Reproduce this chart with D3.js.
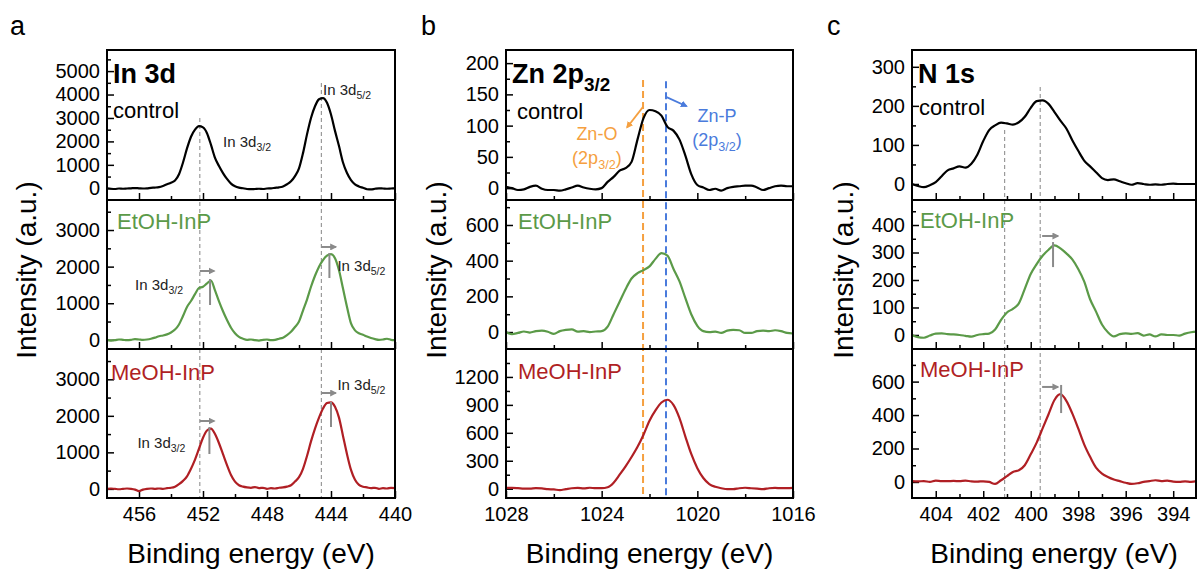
<!DOCTYPE html>
<meta charset="utf-8">
<script src="https://d3js.org/d3.v7.min.js"></script>
<style>
  body { margin: 0; background: #fff; }
  svg text { font-family: "Liberation Sans", Arial, Helvetica, sans-serif; }
</style>
<div id="chart"></div>
<script>
// ---------- data ----------
// panel a : In 3d
const energyA = [458, 457.75, 457.5, 457.25, 457, 456.75, 456.5, 456.25, 456, 455.75,
  455.5, 455.25, 455, 454.75, 454.5, 454.25, 454, 453.75, 453.5, 453.25,
  453, 452.75, 452.5, 452.25, 452, 451.75, 451.5, 451.25, 451, 450.75,
  450.5, 450.25, 450, 449.75, 449.5, 449.25, 449, 448.75, 448.5, 448.25,
  448, 447.75, 447.5, 447.25, 447, 446.75, 446.5, 446.25, 446, 445.75,
  445.5, 445.25, 445, 444.75, 444.5, 444.25, 444, 443.75, 443.5, 443.25,
  443, 442.75, 442.5, 442.25, 442, 441.75, 441.5, 441.25, 441, 440.75,
  440.5, 440.25, 440];
const controlA = [0, -20, -30, -10, -20, -10, 0, 10, 0, -10,
  0, 20, 30, 50, 100, 170, 240, 330, 600, 1100,
  1700, 2200, 2500, 2650, 2600, 2350, 1850, 1300, 950, 650,
  400, 200, 90, 30, 0, -30, -40, -30, -20, -30,
  -10, 0, 20, 40, 80, 170, 300, 520, 850, 1500,
  2300, 3000, 3500, 3800, 3850, 3650, 3150, 2450, 1800, 1100,
  650, 350, 170, 80, 20, -40, -50, -20, 0, -10,
  -20, -10, 0];
const etohA = [0, -20, -10, 10, 0, -10, 0, 20, 10, 0,
  10, 30, 60, 100, 120, 150, 200, 280, 420, 650,
  900, 1060, 1250, 1420, 1450, 1540, 1620, 1350, 1050, 780,
  540, 330, 180, 80, 30, 0, 10, -10, -20, 0,
  10, -10, 0, 30, 60, 130, 220, 350, 500, 800,
  1100, 1450, 1750, 2000, 2180, 2300, 2340, 2230, 1900, 1400,
  900, 450, 260, 180, 140, 90, 50, 20, 0, 10,
  30, 0, -10];
const meohA = [0, 10, 0, -10, 0, 10, 0, -20, -60, -20,
  0, 10, 0, 10, 0, 20, 30, 60, 130, 220,
  340, 550, 800, 1100, 1400, 1600, 1650, 1500, 1250, 950,
  650, 380, 200, 100, 60, 40, 30, 50, 20, 30,
  0, 20, 10, 30, 40, 60, 100, 200, 320, 550,
  900, 1300, 1650, 1950, 2200, 2350, 2370, 2250, 1950, 1450,
  950, 520, 250, 110, 60, 40, 20, 30, 0, 20,
  10, 30, 20];

// panel b : Zn 2p3/2
const energyB = [1028, 1027.75, 1027.5, 1027.25, 1027, 1026.75, 1026.5, 1026.25, 1026, 1025.75,
  1025.5, 1025.25, 1025, 1024.75, 1024.5, 1024.25, 1024, 1023.75, 1023.5, 1023.25,
  1023, 1022.75, 1022.5, 1022.25, 1022, 1021.75, 1021.5, 1021.25, 1021, 1020.75,
  1020.5, 1020.25, 1020, 1019.75, 1019.5, 1019.25, 1019, 1018.75, 1018.5, 1018.25,
  1018, 1017.75, 1017.5, 1017.25, 1017, 1016.75, 1016.5, 1016.25, 1016];
const controlB = [2, 0, -3, -2, 2, 4, -1, -3, -3, -4,
  -2, 1, 4, 1, -1, -2, 0, 10, 18, 28,
  32, 42, 78, 112, 125, 123, 116, 98, 92, 78,
  52, 22, 5, 1, -3, -1, -4, 0, 2, 3,
  4, 4, 1, -3, 0, 3, 4, 3, 3];
const etohB = [0, -12, -5, 3, -3, 5, 8, 2, -10, 5,
  12, 15, 2, 5, 0, 3, 5, 30, 100, 170,
  240, 300, 330, 347, 368, 410, 442, 428, 355, 285,
  190, 98, 35, 5, 0, 2, -5, 8, 12, 10,
  -5, -5, 5, 8, 5, 10, 5, -5, -8];
const meohB = [8, 8, 5, 0, 0, 5, 3, -5, -8, -15,
  -5, 5, 8, 3, 10, 5, 5, 15, 65, 150,
  240, 340, 450, 580, 730, 840, 925, 955, 900, 760,
  560, 370, 220, 115, 50, 20, 5, -5, -5, 5,
  10, 5, 0, -5, 5, 8, 5, 5, 8];

// panel c : N 1s
const energyC = [405, 404.75, 404.5, 404.25, 404, 403.75, 403.5, 403.25, 403, 402.75,
  402.5, 402.25, 402, 401.75, 401.5, 401.25, 401, 400.75, 400.5, 400.25,
  400, 399.75, 399.5, 399.25, 399, 398.75, 398.5, 398.25, 398, 397.75,
  397.5, 397.25, 397, 396.75, 396.5, 396.25, 396, 395.75, 395.5, 395.25,
  395, 394.75, 394.5, 394.25, 394, 393.75, 393.5, 393.25, 393];
const controlC = [0, -5, -8, -3, 5, 20, 35, 40, 45, 42,
  52, 75, 110, 138, 150, 157, 155, 152, 158, 172,
  195, 212, 214, 205, 184, 162, 142, 112, 85, 60,
  45, 30, 15, 10, 12, 7, 2, -2, 2, 0,
  -2, -1, -2, 0, 1, 0, 0, 0, 0];
const etohC = [0, -8, -10, -2, 5, 6, 3, 2, 0, -3,
  -6, 0, 3, 5, 20, 55, 82, 95, 115, 168,
  222, 258, 288, 310, 326, 315, 297, 275, 240, 195,
  130, 85, 38, 10, -5, 3, 6, 4, 7, -2,
  2, -5, 2, 0, 0, -2, 5, 10, 12];
const meohC = [5, 3, 5, 0, 8, 5, 5, 6, 5, 8,
  3, 2, 4, 0, -12, 10, 35, 60, 70, 100,
  165, 235, 320, 405, 490, 525, 485, 410, 320, 225,
  150, 85, 50, 30, 15, 5, -5, -12, -8, 0,
  5, 10, 5, 8, 2, 0, 3, 0, 5];

// tick values
const xTicksA = [456, 452, 448, 444, 440], xMinorA = [454, 450, 446, 442];
const xTicksB = [1028, 1024, 1020, 1016], xMinorB = [1026, 1022, 1018];
const xTicksC = [404, 402, 400, 398, 396, 394], xMinorC = [403, 401, 399, 397, 395, 393];
const yTicksA1 = [0, 1000, 2000, 3000, 4000, 5000], yMinorA1 = [500, 1500, 2500, 3500, 4500, 5500];
const yTicksA2 = [0, 1000, 2000, 3000], yMinorA2 = [500, 1500, 2500, 3500];
const yTicksB1 = [0, 50, 100, 150, 200], yMinorB1 = [25, 75, 125, 175];
const yTicksB2 = [0, 200, 400, 600], yMinorB2 = [100, 300, 500, 700];
const yTicksB3 = [0, 300, 600, 900, 1200], yMinorB3 = [150, 450, 750, 1050, 1350];
const yTicksC1 = [0, 100, 200, 300], yMinorC1 = [50, 150, 250];
const yTicksC2 = [0, 100, 200, 300, 400], yMinorC2 = [50, 150, 250, 350, 450];
const yTicksC3 = [0, 200, 400, 600], yMinorC3 = [100, 300, 500, 700];

// ---------- layout ----------
const W = 1197, H = 569;
const rowTop = [50, 200, 349], rowBot = [200, 349, 498];
const black = "#000", green = "#5b9a48", red = "#b01f24";
const grey = "#8a8a8a", orange = "#f5a040", blue = "#4a7bdc";
const fmt = d3.format("d");

const svg = d3.select("#chart").append("svg")
  .attr("width", W).attr("height", H);

// arrow heads
const defs = svg.append("defs");
[["arrGrey", grey], ["arrOrange", orange], ["arrBlue", blue]].forEach(([id, c]) => {
  defs.append("marker").attr("id", id)
    .attr("viewBox", "0 0 10 10").attr("refX", 8).attr("refY", 5)
    .attr("markerWidth", 7).attr("markerHeight", 7)
    .attr("markerUnits", "userSpaceOnUse").attr("orient", "auto")
    .append("path").attr("d", "M0,0L10,5L0,10Z").attr("fill", c);
});

// text with optional subscript pieces: parts = [[text, isSub], ...]
function richText(g, x, y, parts, size, color, weight, anchor) {
  const t = g.append("text").attr("x", x).attr("y", y)
    .attr("font-size", size).attr("fill", color)
    .attr("font-weight", weight || "normal")
    .attr("text-anchor", anchor || "start");
  let down = false;
  parts.forEach(([s, sub]) => {
    const ts = t.append("tspan").text(s);
    if (sub && !down) { ts.attr("dy", size * 0.28).attr("font-size", size * 0.7); down = true; }
    else if (sub) ts.attr("font-size", size * 0.7);
    else if (!sub && down) { ts.attr("dy", -size * 0.28); down = false; }
  });
  return t;
}

function drawPanel(p) {
  const g = svg.append("g");
  const x = d3.scaleLinear().domain(p.xDomain).range([p.left, p.right]);
  const ys = p.rows.map((r, i) => d3.scaleLinear().domain(r.yDomain).range([rowBot[i], rowTop[i]]));

  // vertical reference lines (behind the curves)
  p.guides.forEach(gd => {
    g.append("line")
      .attr("x1", x(gd.e)).attr("x2", x(gd.e))
      .attr("y1", ys[0](gd.top)).attr("y2", rowBot[2])
      .attr("stroke", gd.color).attr("stroke-width", gd.width)
      .attr("stroke-dasharray", gd.dash);
  });

  p.rows.forEach((r, i) => {
    const y = ys[i];
    // y ticks (inward)
    g.append("g").attr("transform", `translate(${p.left},0)`)
      .call(d3.axisLeft(y).tickValues(r.minor).tickSize(-4).tickFormat(""))
      .call(a => a.select(".domain").remove());
    g.append("g").attr("transform", `translate(${p.left},0)`)
      .call(d3.axisLeft(y).tickValues(r.major).tickSize(-7).tickPadding(7).tickFormat(fmt))
      .call(a => a.select(".domain").remove());
    // x ticks (inward), labels only on the bottom row
    const ax = d3.axisBottom(x).tickValues(p.xMajor).tickSize(-7).tickPadding(9)
      .tickFormat(i < 2 ? "" : fmt);
    g.append("g").attr("transform", `translate(0,${rowBot[i]})`)
      .call(ax).call(a => a.select(".domain").remove());
    g.append("g").attr("transform", `translate(0,${rowBot[i]})`)
      .call(d3.axisBottom(x).tickValues(p.xMinor).tickSize(-4).tickFormat(""))
      .call(a => a.select(".domain").remove());

    // spectrum
    g.append("path")
      .datum(d3.zip(p.energy, r.values))
      .attr("d", d3.line().x(d => x(d[0])).y(d => y(d[1])).curve(d3.curveMonotoneX))
      .attr("fill", "none").attr("stroke", r.color).attr("stroke-width", 2.2)
      .attr("stroke-linejoin", "round");

    // sample label
    g.append("text").attr("x", p.left + r.labelDx).attr("y", r.labelY)
      .attr("font-size", 22).attr("fill", r.color).text(r.label);

    // frame
    g.append("rect").attr("x", p.left).attr("y", rowTop[i])
      .attr("width", p.right - p.left).attr("height", rowBot[i] - rowTop[i])
      .attr("fill", "none").attr("stroke", black).attr("stroke-width", 2);
  });

  g.selectAll(".tick line").attr("stroke", black).attr("stroke-width", 1.5);
  g.selectAll(".tick text").attr("font-size", 20).attr("fill", black)
    .attr("font-family", '"Liberation Sans", Arial, sans-serif');

  // peak shift arrows
  p.shifts.forEach(s => {
    const y = ys[s.row];
    g.append("line").attr("x1", x(s.e1)).attr("x2", x(s.e2))
      .attr("y1", y(s.ia)).attr("y2", y(s.ia))
      .attr("stroke", grey).attr("stroke-width", 2).attr("marker-end", "url(#arrGrey)");
    g.append("line").attr("x1", x(s.ev)).attr("x2", x(s.ev))
      .attr("y1", y(s.iv1)).attr("y2", y(s.iv2))
      .attr("stroke", grey).attr("stroke-width", 2);
  });

  // annotations in data coordinates
  p.notes.forEach(n => {
    richText(g, x(n.e), ys[n.row](n.i), n.parts, n.size, n.color, n.weight, n.anchor);
  });
  (p.pointers || []).forEach(a => {
    const y = ys[a.row];
    g.append("line").attr("x1", x(a.e1)).attr("y1", y(a.i1))
      .attr("x2", x(a.e2)).attr("y2", y(a.i2))
      .attr("stroke", a.color).attr("stroke-width", 1.8)
      .attr("marker-end", `url(#${a.marker})`);
  });

  // titles and axis labels
  richText(g, p.left + 6, 83, p.title, 27, black, "bold");
  g.append("text").attr("x", p.letterX).attr("y", 35)
    .attr("font-size", 27).text(p.letter);
  g.append("text").attr("x", (p.left + p.right) / 2).attr("y", 563)
    .attr("text-anchor", "middle").attr("font-size", 28).text("Binding energy (eV)");
  g.append("text")
    .attr("transform", `translate(${p.yLabelX},270) rotate(-90)`)
    .attr("text-anchor", "middle").attr("font-size", 28).text("Intensity (a.u.)");
}

const small = 15;
drawPanel({
  letter: "a", letterX: 10, yLabelX: 36,
  left: 107, right: 395, xDomain: [458, 440], xMajor: xTicksA, xMinor: xMinorA, energy: energyA,
  title: [["In 3d", false]],
  rows: [
    { yDomain: [-500, 5900], major: yTicksA1, minor: yMinorA1, values: controlA, color: black, label: "control", labelDx: 6, labelY: 118 },
    { yDomain: [-250, 3820], major: yTicksA2, minor: yMinorA2, values: etohA, color: green, label: "EtOH-InP", labelDx: 10, labelY: 229 },
    { yDomain: [-250, 3830], major: yTicksA2, minor: yMinorA2, values: meohA, color: red, label: "MeOH-InP", labelDx: 4, labelY: 380 }
  ],
  guides: [
    { e: 452.2, top: 3000, color: "#9a9a9a", width: 1.2, dash: "4,3" },
    { e: 444.6, top: 4490, color: "#9a9a9a", width: 1.2, dash: "4,3" }
  ],
  shifts: [
    { row: 1, e1: 452.2, e2: 451.3, ia: 1881, ev: 451.56, iv1: 1662, iv2: 952 },
    { row: 1, e1: 444.6, e2: 443.7, ia: 2537, ev: 444.1, iv1: 2373, iv2: 1690 },
    { row: 2, e1: 452.2, e2: 451.3, ia: 1858, ev: 451.6, iv1: 1694, iv2: 955 },
    { row: 2, e1: 444.6, e2: 443.7, ia: 2625, ev: 444.0, iv1: 2378, iv2: 1694 }
  ],
  notes: [
    { row: 0, e: 450.75, i: 1760, parts: [["In 3d", false], ["3/2", true]], size: small, color: "#222" },
    { row: 0, e: 444.5, i: 3980, parts: [["In 3d", false], ["5/2", true]], size: small, color: "#222" },
    { row: 1, e: 456.25, i: 1360, parts: [["In 3d", false], ["3/2", true]], size: small, color: "#222" },
    { row: 1, e: 443.6, i: 1880, parts: [["In 3d", false], ["5/2", true]], size: small, color: "#222" },
    { row: 2, e: 456.1, i: 1120, parts: [["In 3d", false], ["3/2", true]], size: small, color: "#222" },
    { row: 2, e: 443.6, i: 2710, parts: [["In 3d", false], ["5/2", true]], size: small, color: "#222" }
  ]
});

drawPanel({
  letter: "b", letterX: 421, yLabelX: 446,
  left: 506, right: 793, xDomain: [1028, 1016], xMajor: xTicksB, xMinor: xMinorB, energy: energyB,
  title: [["Zn 2p", false], ["3/2", true]],
  rows: [
    { yDomain: [-19, 221], major: yTicksB1, minor: yMinorB1, values: controlB, color: black, label: "control", labelDx: 11, labelY: 119 },
    { yDomain: [-95, 740], major: yTicksB2, minor: yMinorB2, values: etohB, color: green, label: "EtOH-InP", labelDx: 12, labelY: 229 },
    { yDomain: [-100, 1500], major: yTicksB3, minor: yMinorB3, values: meohB, color: red, label: "MeOH-InP", labelDx: 12, labelY: 379 }
  ],
  guides: [
    { e: 1022.27, top: 173, color: orange, width: 2, dash: "7,4" },
    { e: 1021.31, top: 171, color: blue, width: 2, dash: "7,4" }
  ],
  shifts: [],
  pointers: [
    { row: 0, e1: 1022.27, i1: 130, e2: 1022.94, i2: 97, color: orange, marker: "arrOrange" },
    { row: 0, e1: 1021.31, i1: 146, e2: 1020.45, i2: 131, color: blue, marker: "arrBlue" }
  ],
  notes: [
    { row: 0, e: 1024.2, i: 77, parts: [["Zn-O", false]], size: 18, color: orange, anchor: "middle" },
    { row: 0, e: 1024.2, i: 39, parts: [["(2p", false], ["3/2", true], [")", false]], size: 18, color: orange, anchor: "middle" },
    { row: 0, e: 1019.18, i: 106, parts: [["Zn-P", false]], size: 18, color: blue, anchor: "middle" },
    { row: 0, e: 1019.18, i: 68, parts: [["(2p", false], ["3/2", true], [")", false]], size: 18, color: blue, anchor: "middle" }
  ]
});

drawPanel({
  letter: "c", letterX: 827, yLabelX: 853,
  left: 912, right: 1196, xDomain: [405, 393.04], xMajor: xTicksC, xMinor: xMinorC, energy: energyC,
  title: [["N 1s", false]],
  rows: [
    { yDomain: [-41, 343], major: yTicksC1, minor: yMinorC1, values: controlC, color: black, label: "control", labelDx: 7, labelY: 115 },
    { yDomain: [-51, 491], major: yTicksC2, minor: yMinorC2, values: etohC, color: green, label: "EtOH-InP", labelDx: 8, labelY: 228 },
    { yDomain: [-96, 795], major: yTicksC3, minor: yMinorC3, values: meohC, color: red, label: "MeOH-InP", labelDx: 8, labelY: 377 }
  ],
  guides: [
    { e: 401.1, top: 138, color: "#9a9a9a", width: 1.2, dash: "4,3" },
    { e: 399.6, top: 248, color: "#9a9a9a", width: 1.2, dash: "4,3" }
  ],
  shifts: [
    { row: 1, e1: 399.52, e2: 398.85, ia: 360, ev: 399.06, iv1: 338, iv2: 247 },
    { row: 2, e1: 399.52, e2: 398.85, ia: 568, ev: 398.72, iv1: 580, iv2: 412 }
  ],
  notes: []
});
</script>
